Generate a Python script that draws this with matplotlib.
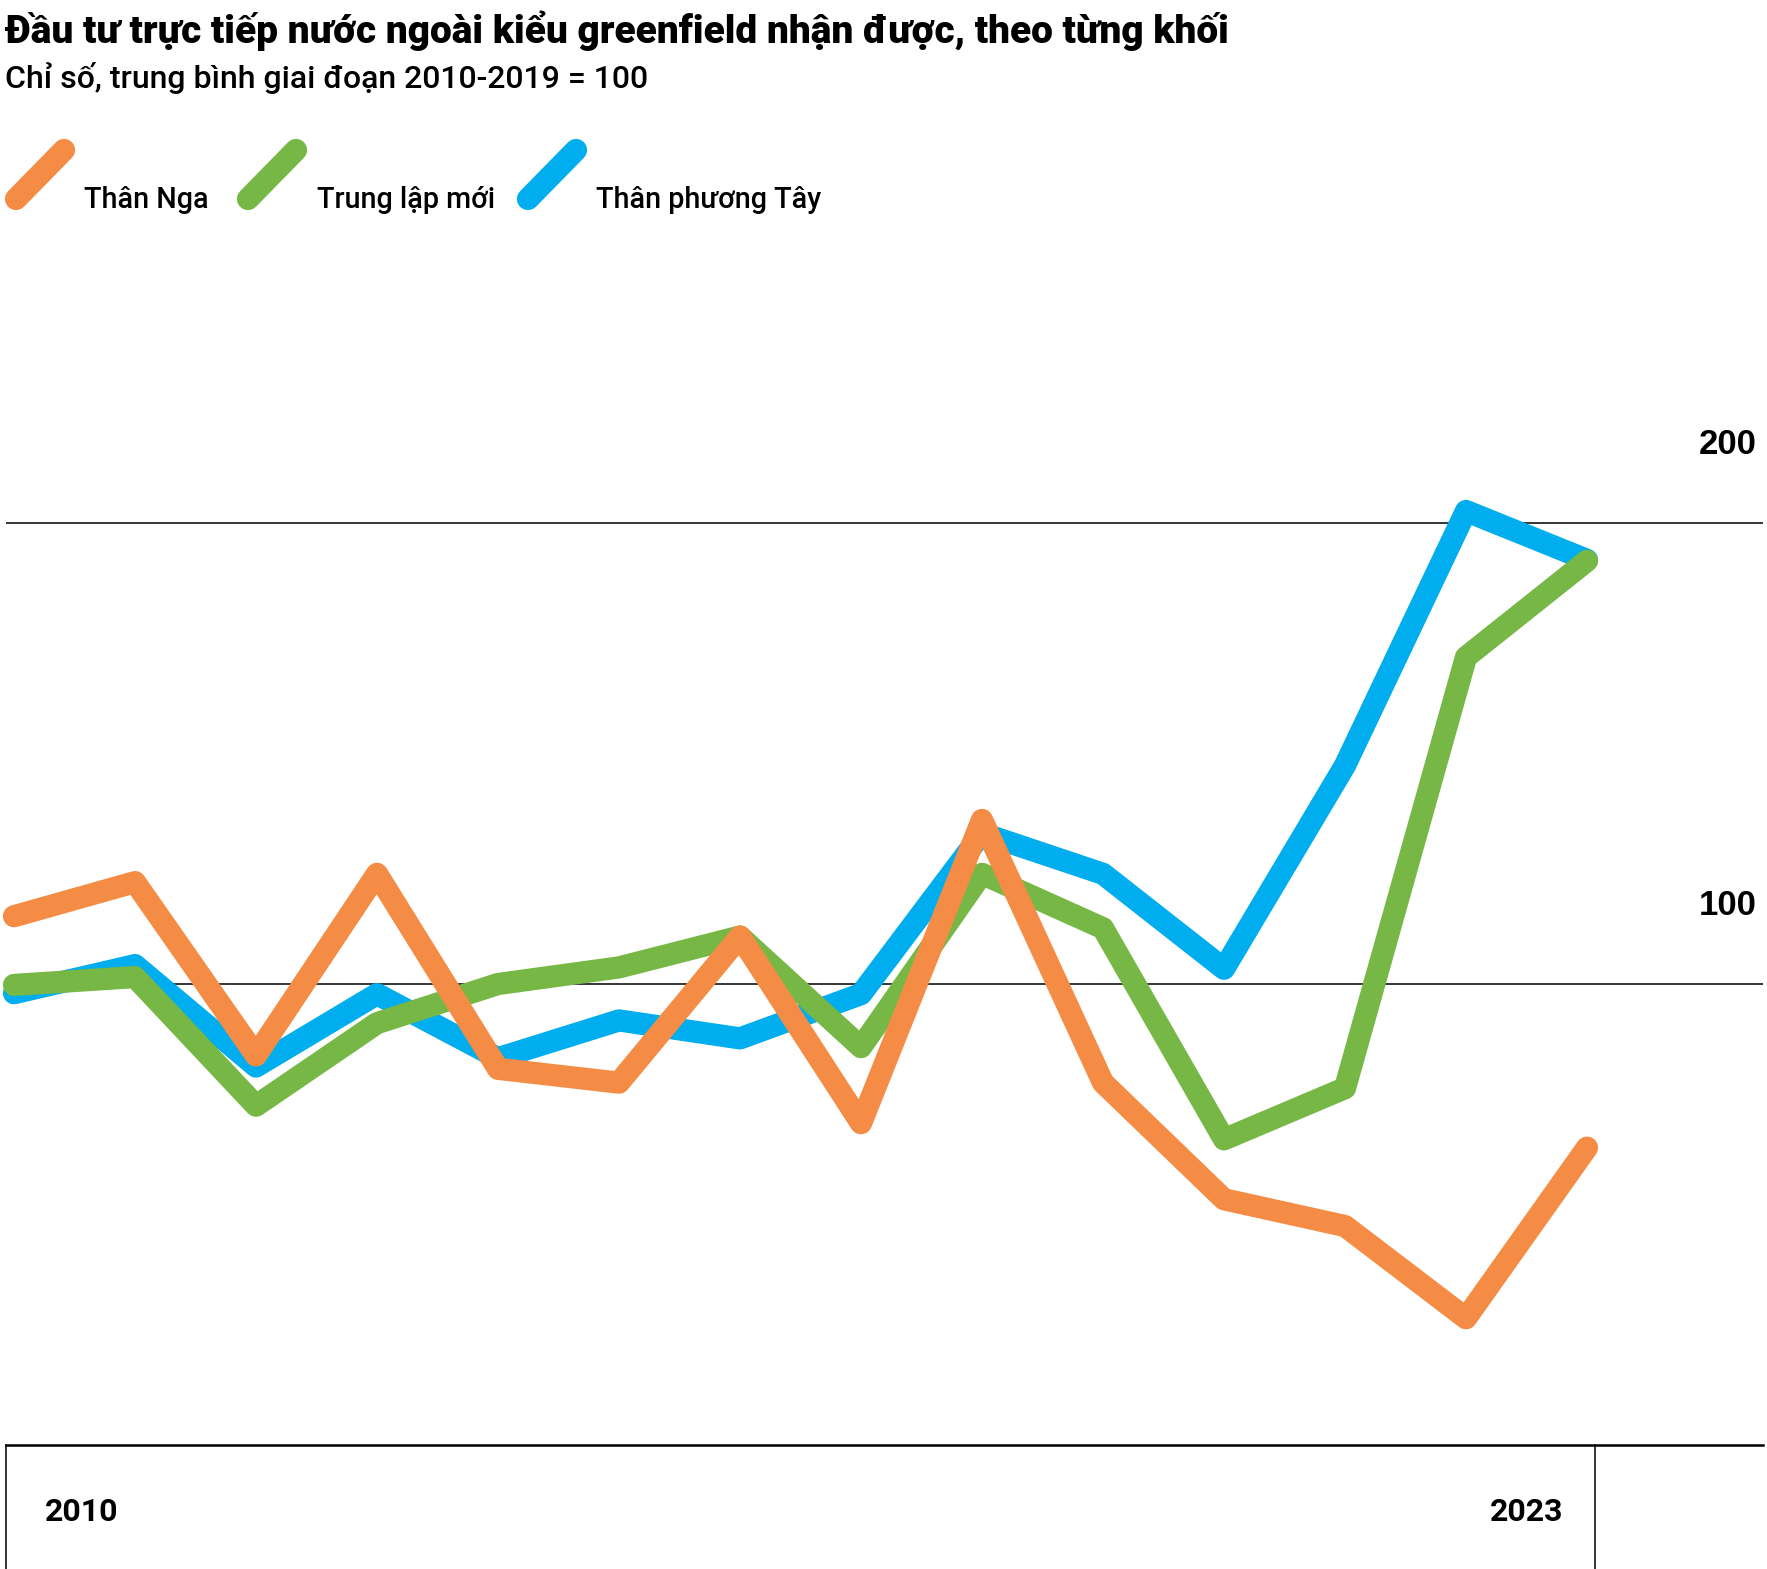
import matplotlib
matplotlib.use("Agg")
import matplotlib.pyplot as plt
from matplotlib.lines import Line2D
from matplotlib.transforms import blended_transform_factory

# Datos (índice, promedio 2010-2019 = 100)
years = list(range(2010, 2024))
than_nga = [114.7, 122.1, 84.5, 123.9, 81.6, 78.6, 110.3, 69.8, 135.6, 78.6, 53.3, 47.5, 27.5, 64.5]
trung_lap = [99.8, 101.5, 73.6, 91.5, 100.0, 103.6, 110.3, 86.3, 123.9, 112.1, 66.3, 77.4, 170.9, 191.8]
than_tay = [98.0, 104.1, 82.1, 97.8, 83.9, 92.1, 88.2, 97.8, 132.7, 123.9, 103.3, 147.4, 202.6, 192.0]

labels = ["Thân Nga", "Trung lập mới", "Thân phương Tây"]
colors = ["#F58C45", "#76B746", "#00ADEE"]
ytick_vals = [100, 200]
year_labels = ["2010", "2023"]

W, H = 1767, 1569
fig = plt.figure(figsize=(W / 100, H / 100), dpi=100)

fam = ["Roboto", "DejaVu Sans"]
fam_num = ["Liberation Sans", "DejaVu Sans"]

# Ejes principales (posición en píxeles de la figura)
left, right = 6, 1763
base_y = 1445
px_per_unit = 4.61
ymax = 230
ax = fig.add_axes([left / W, (H - base_y) / H, (right - left) / W, ymax * px_per_unit / H])
step = 121.0
ax.set_xlim(2010 - (14 - left) / step, 2010 + (right - 14) / step)
ax.set_ylim(0, ymax)
ax.axis("off")

for v in ytick_vals:
    ax.axhline(v, color="black", lw=1.1, zorder=1)
ax.axhline(0, color="black", lw=1.8, zorder=1, clip_on=False)

lw = 16
ax.plot(years, than_tay, color=colors[2], lw=lw, solid_joinstyle="round", solid_capstyle="round", zorder=3, clip_on=False)
ax.plot(years, trung_lap, color=colors[1], lw=lw, solid_joinstyle="round", solid_capstyle="round", zorder=4, clip_on=False)
ax.plot(years, than_nga, color=colors[0], lw=lw, solid_joinstyle="round", solid_capstyle="round", zorder=5, clip_on=False)

# Etiquetas del eje Y a la derecha, encima de cada línea
tr = blended_transform_factory(ax.transAxes, ax.transData)
for v in ytick_vals:
    ax.text(0.9965, v + 17, str(v), transform=tr, ha="right", va="center",
            fontsize=25, fontweight="bold", family=fam_num)

# Líneas verticales bajo el eje y etiquetas de años
for xp in [left, 1595]:
    fig.add_artist(Line2D([xp / W, xp / W], [0, (H - base_y) / H], color="black", lw=1.1))
fig.text(82 / W, 1 - 1512 / H, year_labels[0], ha="center", va="center",
         fontsize=23, fontweight="bold", family=fam)
fig.text(1527 / W, 1 - 1512 / H, year_labels[1], ha="center", va="center",
         fontsize=23, fontweight="bold", family=fam)

# Título y subtítulo
fig.text(5 / W, 1 - 43 / H, "Đầu tư trực tiếp nước ngoài kiểu greenfield nhận được, theo từng khối",
         ha="left", va="baseline", fontsize=28, fontweight="heavy", family=fam)
fig.text(5 / W, 1 - 88 / H, "Chỉ số, trung bình giai đoạn 2010-2019 = 100",
         ha="left", va="baseline", fontsize=23, fontweight="medium", family=fam)

# Leyenda con trazos diagonales
slash_x = [16, 248, 528]
text_x = [84, 317, 596]
for sx, tx, lab, col in zip(slash_x, text_x, labels, colors):
    fig.add_artist(Line2D([sx / W, (sx + 48) / W], [1 - 199 / H, 1 - 150 / H],
                          color=col, lw=16, solid_capstyle="round"))
    fig.text(tx / W, 1 - 208 / H, lab, ha="left", va="baseline",
             fontsize=20.7, fontweight="medium", family=fam)

fig.savefig("out.png", dpi=100)
